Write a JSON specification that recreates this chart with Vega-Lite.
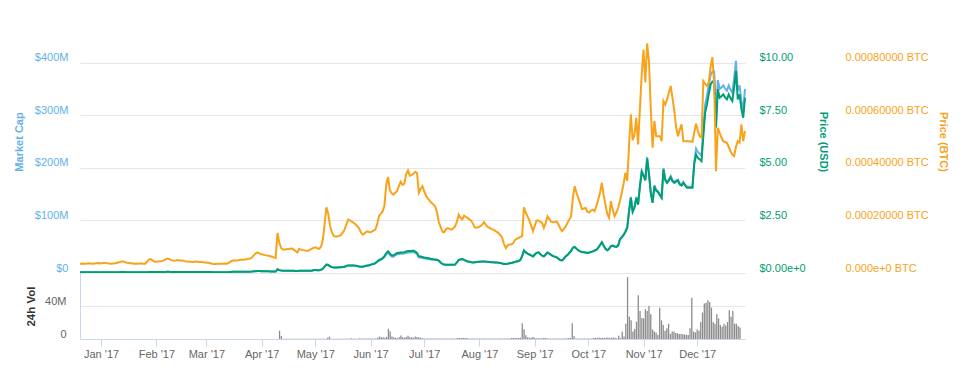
{
"$schema": "https://vega.github.io/schema/vega-lite/v6.json",
"padding": {"left": 13, "top": 10, "right": 5, "bottom": 5},
"config": {"view": {"stroke": null}, "font": "Liberation Sans"},
"data": {"values": [
{"date":"2016-12-23","mcap":1.35,"usd":0.034,"btc":0.0000355,"vol":0},
{"date":"2016-12-24","mcap":1.35,"usd":0.034,"btc":0.0000355,"vol":0},
{"date":"2016-12-25","mcap":1.37,"usd":0.034,"btc":0.000036,"vol":0},
{"date":"2016-12-26","mcap":1.33,"usd":0.033,"btc":0.000035,"vol":0},
{"date":"2016-12-27","mcap":1.37,"usd":0.034,"btc":0.000036,"vol":0},
{"date":"2016-12-28","mcap":1.41,"usd":0.035,"btc":0.000037,"vol":0},
{"date":"2016-12-29","mcap":1.37,"usd":0.034,"btc":0.000036,"vol":0},
{"date":"2016-12-30","mcap":1.33,"usd":0.033,"btc":0.000035,"vol":0},
{"date":"2016-12-31","mcap":1.37,"usd":0.034,"btc":0.000036,"vol":0},
{"date":"2017-01-01","mcap":1.41,"usd":0.035,"btc":0.000037,"vol":0},
{"date":"2017-01-02","mcap":1.44,"usd":0.036,"btc":0.000038,"vol":0},
{"date":"2017-01-03","mcap":1.37,"usd":0.034,"btc":0.000036,"vol":0},
{"date":"2017-01-04","mcap":1.41,"usd":0.035,"btc":0.000037,"vol":0},
{"date":"2017-01-05","mcap":1.44,"usd":0.036,"btc":0.000038,"vol":0},
{"date":"2017-01-06","mcap":1.44,"usd":0.036,"btc":0.000038,"vol":0},
{"date":"2017-01-07","mcap":1.41,"usd":0.035,"btc":0.000037,"vol":0},
{"date":"2017-01-08","mcap":1.37,"usd":0.034,"btc":0.000036,"vol":0},
{"date":"2017-01-09","mcap":1.33,"usd":0.033,"btc":0.000035,"vol":0},
{"date":"2017-01-10","mcap":1.37,"usd":0.034,"btc":0.000036,"vol":0},
{"date":"2017-01-11","mcap":1.37,"usd":0.034,"btc":0.000036,"vol":0},
{"date":"2017-01-12","mcap":1.44,"usd":0.036,"btc":0.000038,"vol":0},
{"date":"2017-01-13","mcap":1.52,"usd":0.038,"btc":0.00004,"vol":0},
{"date":"2017-01-14","mcap":1.6,"usd":0.04,"btc":0.000042,"vol":0},
{"date":"2017-01-15","mcap":1.67,"usd":0.042,"btc":0.000044,"vol":0},
{"date":"2017-01-16","mcap":1.67,"usd":0.042,"btc":0.000044,"vol":0},
{"date":"2017-01-17","mcap":1.56,"usd":0.039,"btc":0.000041,"vol":0},
{"date":"2017-01-18","mcap":1.48,"usd":0.037,"btc":0.000039,"vol":0},
{"date":"2017-01-19","mcap":1.44,"usd":0.036,"btc":0.000038,"vol":0},
{"date":"2017-01-20","mcap":1.41,"usd":0.035,"btc":0.000037,"vol":0},
{"date":"2017-01-21","mcap":1.37,"usd":0.034,"btc":0.000036,"vol":0},
{"date":"2017-01-22","mcap":1.33,"usd":0.033,"btc":0.000035,"vol":0},
{"date":"2017-01-23","mcap":1.37,"usd":0.034,"btc":0.000036,"vol":0},
{"date":"2017-01-24","mcap":1.33,"usd":0.033,"btc":0.000035,"vol":0},
{"date":"2017-01-25","mcap":1.37,"usd":0.034,"btc":0.000036,"vol":0},
{"date":"2017-01-26","mcap":1.37,"usd":0.034,"btc":0.000036,"vol":0},
{"date":"2017-01-27","mcap":1.33,"usd":0.033,"btc":0.000035,"vol":0},
{"date":"2017-01-28","mcap":1.35,"usd":0.034,"btc":0.0000355,"vol":0},
{"date":"2017-01-29","mcap":1.63,"usd":0.041,"btc":0.000043,"vol":0},
{"date":"2017-01-30","mcap":1.94,"usd":0.048,"btc":0.000051,"vol":0},
{"date":"2017-01-31","mcap":2.01,"usd":0.05,"btc":0.000053,"vol":0},
{"date":"2017-02-01","mcap":1.92,"usd":0.048,"btc":0.000048,"vol":0},
{"date":"2017-02-02","mcap":1.76,"usd":0.044,"btc":0.000044,"vol":0},
{"date":"2017-02-03","mcap":1.72,"usd":0.043,"btc":0.000043,"vol":0},
{"date":"2017-02-04","mcap":1.76,"usd":0.044,"btc":0.000044,"vol":0},
{"date":"2017-02-05","mcap":1.8,"usd":0.045,"btc":0.000045,"vol":0},
{"date":"2017-02-06","mcap":1.8,"usd":0.045,"btc":0.000045,"vol":0},
{"date":"2017-02-07","mcap":1.88,"usd":0.047,"btc":0.000047,"vol":0},
{"date":"2017-02-08","mcap":2.04,"usd":0.051,"btc":0.000051,"vol":0},
{"date":"2017-02-09","mcap":2.16,"usd":0.054,"btc":0.000054,"vol":0},
{"date":"2017-02-10","mcap":2.16,"usd":0.054,"btc":0.000054,"vol":0},
{"date":"2017-02-11","mcap":2.0,"usd":0.05,"btc":0.00005,"vol":0},
{"date":"2017-02-12","mcap":1.92,"usd":0.048,"btc":0.000048,"vol":0},
{"date":"2017-02-13","mcap":1.88,"usd":0.047,"btc":0.000047,"vol":0},
{"date":"2017-02-14","mcap":1.92,"usd":0.048,"btc":0.000048,"vol":0},
{"date":"2017-02-15","mcap":1.96,"usd":0.049,"btc":0.000049,"vol":0},
{"date":"2017-02-16","mcap":1.92,"usd":0.048,"btc":0.000048,"vol":0},
{"date":"2017-02-17","mcap":1.92,"usd":0.048,"btc":0.000048,"vol":0},
{"date":"2017-02-18","mcap":1.88,"usd":0.047,"btc":0.000047,"vol":0},
{"date":"2017-02-19","mcap":1.8,"usd":0.045,"btc":0.000045,"vol":0},
{"date":"2017-02-20","mcap":1.76,"usd":0.044,"btc":0.000044,"vol":0},
{"date":"2017-02-21","mcap":1.72,"usd":0.043,"btc":0.000043,"vol":0},
{"date":"2017-02-22","mcap":1.72,"usd":0.043,"btc":0.000043,"vol":0},
{"date":"2017-02-23","mcap":1.68,"usd":0.042,"btc":0.000042,"vol":0},
{"date":"2017-02-24","mcap":1.72,"usd":0.043,"btc":0.000043,"vol":0},
{"date":"2017-02-25","mcap":1.76,"usd":0.044,"btc":0.000044,"vol":0},
{"date":"2017-02-26","mcap":1.72,"usd":0.043,"btc":0.000043,"vol":0},
{"date":"2017-02-27","mcap":1.68,"usd":0.042,"btc":0.000042,"vol":0},
{"date":"2017-02-28","mcap":1.68,"usd":0.042,"btc":0.000042,"vol":0},
{"date":"2017-03-01","mcap":1.89,"usd":0.047,"btc":0.000041,"vol":0},
{"date":"2017-03-02","mcap":1.84,"usd":0.046,"btc":0.00004,"vol":0},
{"date":"2017-03-03","mcap":1.79,"usd":0.045,"btc":0.000039,"vol":0},
{"date":"2017-03-04","mcap":1.79,"usd":0.045,"btc":0.000039,"vol":0},
{"date":"2017-03-05","mcap":1.7,"usd":0.043,"btc":0.000037,"vol":0},
{"date":"2017-03-06","mcap":1.61,"usd":0.04,"btc":0.000035,"vol":0},
{"date":"2017-03-07","mcap":1.59,"usd":0.04,"btc":0.0000345,"vol":0},
{"date":"2017-03-08","mcap":1.58,"usd":0.039,"btc":0.0000343,"vol":0},
{"date":"2017-03-09","mcap":1.61,"usd":0.04,"btc":0.000035,"vol":0},
{"date":"2017-03-10","mcap":1.63,"usd":0.041,"btc":0.0000355,"vol":0},
{"date":"2017-03-11","mcap":1.61,"usd":0.04,"btc":0.000035,"vol":0},
{"date":"2017-03-12","mcap":1.63,"usd":0.041,"btc":0.0000355,"vol":0},
{"date":"2017-03-13","mcap":1.66,"usd":0.041,"btc":0.000036,"vol":0},
{"date":"2017-03-14","mcap":1.63,"usd":0.041,"btc":0.0000355,"vol":0},
{"date":"2017-03-15","mcap":1.75,"usd":0.044,"btc":0.000038,"vol":0},
{"date":"2017-03-16","mcap":1.98,"usd":0.049,"btc":0.000043,"vol":0},
{"date":"2017-03-17","mcap":2.16,"usd":0.054,"btc":0.000047,"vol":0},
{"date":"2017-03-18","mcap":2.21,"usd":0.055,"btc":0.000048,"vol":0},
{"date":"2017-03-19","mcap":2.16,"usd":0.054,"btc":0.000047,"vol":0},
{"date":"2017-03-20","mcap":2.21,"usd":0.055,"btc":0.000048,"vol":0},
{"date":"2017-03-21","mcap":2.25,"usd":0.056,"btc":0.000049,"vol":0},
{"date":"2017-03-22","mcap":2.3,"usd":0.058,"btc":0.00005,"vol":0},
{"date":"2017-03-23","mcap":2.3,"usd":0.058,"btc":0.00005,"vol":0},
{"date":"2017-03-24","mcap":2.35,"usd":0.059,"btc":0.000051,"vol":0},
{"date":"2017-03-25","mcap":2.39,"usd":0.06,"btc":0.000052,"vol":0},
{"date":"2017-03-26","mcap":2.48,"usd":0.062,"btc":0.000054,"vol":0},
{"date":"2017-03-27","mcap":2.53,"usd":0.063,"btc":0.000055,"vol":0},
{"date":"2017-03-28","mcap":2.76,"usd":0.069,"btc":0.00006,"vol":0},
{"date":"2017-03-29","mcap":3.13,"usd":0.078,"btc":0.000068,"vol":0},
{"date":"2017-03-30","mcap":3.45,"usd":0.086,"btc":0.000075,"vol":0},
{"date":"2017-03-31","mcap":3.61,"usd":0.09,"btc":0.0000785,"vol":0},
{"date":"2017-04-01","mcap":3.6,"usd":0.09,"btc":0.000075,"vol":0},
{"date":"2017-04-02","mcap":3.41,"usd":0.085,"btc":0.000071,"vol":0},
{"date":"2017-04-03","mcap":3.36,"usd":0.084,"btc":0.00007,"vol":0},
{"date":"2017-04-04","mcap":3.26,"usd":0.082,"btc":0.000068,"vol":0},
{"date":"2017-04-05","mcap":3.22,"usd":0.08,"btc":0.000067,"vol":0},
{"date":"2017-04-06","mcap":3.17,"usd":0.079,"btc":0.000066,"vol":0},
{"date":"2017-04-07","mcap":3.07,"usd":0.077,"btc":0.000064,"vol":0},
{"date":"2017-04-08","mcap":2.98,"usd":0.074,"btc":0.000062,"vol":0},
{"date":"2017-04-09","mcap":2.83,"usd":0.071,"btc":0.000059,"vol":0},
{"date":"2017-04-10","mcap":2.78,"usd":0.07,"btc":0.000058,"vol":0},
{"date":"2017-04-11","mcap":7.3,"usd":0.182,"btc":0.000152,"vol":10},
{"date":"2017-04-12","mcap":5.52,"usd":0.138,"btc":0.000115,"vol":3.5},
{"date":"2017-04-13","mcap":4.56,"usd":0.114,"btc":0.000095,"vol":0.3},
{"date":"2017-04-14","mcap":4.27,"usd":0.107,"btc":0.000089,"vol":0.3},
{"date":"2017-04-15","mcap":4.27,"usd":0.107,"btc":0.000089,"vol":0.3},
{"date":"2017-04-16","mcap":4.32,"usd":0.108,"btc":0.00009,"vol":0.3},
{"date":"2017-04-17","mcap":4.37,"usd":0.109,"btc":0.000091,"vol":0.3},
{"date":"2017-04-18","mcap":4.42,"usd":0.11,"btc":0.000092,"vol":0.3},
{"date":"2017-04-19","mcap":4.46,"usd":0.112,"btc":0.000093,"vol":0.3},
{"date":"2017-04-20","mcap":4.27,"usd":0.107,"btc":0.000089,"vol":0.3},
{"date":"2017-04-21","mcap":3.98,"usd":0.1,"btc":0.000083,"vol":0.3},
{"date":"2017-04-22","mcap":3.74,"usd":0.094,"btc":0.000078,"vol":0.3},
{"date":"2017-04-23","mcap":4.42,"usd":0.11,"btc":0.000092,"vol":0.3},
{"date":"2017-04-24","mcap":4.27,"usd":0.107,"btc":0.000089,"vol":0.3},
{"date":"2017-04-25","mcap":4.18,"usd":0.104,"btc":0.000087,"vol":0.3},
{"date":"2017-04-26","mcap":4.13,"usd":0.103,"btc":0.000086,"vol":0.3},
{"date":"2017-04-27","mcap":4.08,"usd":0.102,"btc":0.000085,"vol":0.3},
{"date":"2017-04-28","mcap":4.08,"usd":0.102,"btc":0.000085,"vol":0.3},
{"date":"2017-04-29","mcap":4.27,"usd":0.107,"btc":0.000089,"vol":0.3},
{"date":"2017-04-30","mcap":4.46,"usd":0.112,"btc":0.000093,"vol":0.3},
{"date":"2017-05-01","mcap":5.57,"usd":0.139,"btc":0.000096,"vol":0.3},
{"date":"2017-05-02","mcap":5.66,"usd":0.142,"btc":0.0000976,"vol":0.3},
{"date":"2017-05-03","mcap":5.45,"usd":0.136,"btc":0.000094,"vol":0.3},
{"date":"2017-05-04","mcap":5.34,"usd":0.133,"btc":0.000092,"vol":0.3},
{"date":"2017-05-05","mcap":6.0,"usd":0.15,"btc":0.0001,"vol":0.3},
{"date":"2017-05-06","mcap":8.0,"usd":0.2,"btc":0.000125,"vol":0.3},
{"date":"2017-05-07","mcap":12.0,"usd":0.3,"btc":0.000185,"vol":0.3},
{"date":"2017-05-08","mcap":16.0,"usd":0.4,"btc":0.00025,"vol":1.6},
{"date":"2017-05-09","mcap":15.2,"usd":0.38,"btc":0.000225,"vol":2.8},
{"date":"2017-05-10","mcap":12.8,"usd":0.32,"btc":0.00018,"vol":0.4},
{"date":"2017-05-11","mcap":11.2,"usd":0.28,"btc":0.000155,"vol":0.4},
{"date":"2017-05-12","mcap":10.4,"usd":0.26,"btc":0.000141,"vol":0.4},
{"date":"2017-05-13","mcap":10.4,"usd":0.26,"btc":0.000139,"vol":0.4},
{"date":"2017-05-14","mcap":10.4,"usd":0.26,"btc":0.000139,"vol":0.4},
{"date":"2017-05-15","mcap":10.8,"usd":0.27,"btc":0.000141,"vol":0.4},
{"date":"2017-05-16","mcap":10.8,"usd":0.27,"btc":0.000145,"vol":0.4},
{"date":"2017-05-17","mcap":11.2,"usd":0.28,"btc":0.000153,"vol":0.4},
{"date":"2017-05-18","mcap":12.0,"usd":0.3,"btc":0.000165,"vol":0.4},
{"date":"2017-05-19","mcap":13.2,"usd":0.33,"btc":0.000185,"vol":0.4},
{"date":"2017-05-20","mcap":14.4,"usd":0.36,"btc":0.000203,"vol":0.4},
{"date":"2017-05-21","mcap":14.4,"usd":0.36,"btc":0.0002,"vol":1},
{"date":"2017-05-22","mcap":14.4,"usd":0.36,"btc":0.000195,"vol":0.4},
{"date":"2017-05-23","mcap":14.4,"usd":0.36,"btc":0.000191,"vol":0.4},
{"date":"2017-05-24","mcap":14.0,"usd":0.35,"btc":0.000185,"vol":0.4},
{"date":"2017-05-25","mcap":13.2,"usd":0.33,"btc":0.000178,"vol":0.4},
{"date":"2017-05-26","mcap":12.4,"usd":0.31,"btc":0.00017,"vol":1},
{"date":"2017-05-27","mcap":12.0,"usd":0.3,"btc":0.000155,"vol":0.5},
{"date":"2017-05-28","mcap":12.0,"usd":0.3,"btc":0.000146,"vol":0.5},
{"date":"2017-05-29","mcap":12.8,"usd":0.32,"btc":0.00015,"vol":0.5},
{"date":"2017-05-30","mcap":13.6,"usd":0.34,"btc":0.000157,"vol":0.5},
{"date":"2017-05-31","mcap":14.4,"usd":0.36,"btc":0.000158,"vol":0.5},
{"date":"2017-06-01","mcap":15.2,"usd":0.38,"btc":0.000154,"vol":0.5},
{"date":"2017-06-02","mcap":16.4,"usd":0.41,"btc":0.000157,"vol":0.5},
{"date":"2017-06-03","mcap":17.2,"usd":0.43,"btc":0.000161,"vol":0.5},
{"date":"2017-06-04","mcap":18.8,"usd":0.47,"btc":0.000165,"vol":0.5},
{"date":"2017-06-05","mcap":21.2,"usd":0.55,"btc":0.000185,"vol":1.5},
{"date":"2017-06-06","mcap":23.3,"usd":0.62,"btc":0.000217,"vol":3},
{"date":"2017-06-07","mcap":24.8,"usd":0.66,"btc":0.000225,"vol":2},
{"date":"2017-06-08","mcap":26.6,"usd":0.71,"btc":0.000234,"vol":2},
{"date":"2017-06-09","mcap":30.0,"usd":0.8,"btc":0.000255,"vol":1.5},
{"date":"2017-06-10","mcap":35.6,"usd":0.95,"btc":0.000335,"vol":2.5},
{"date":"2017-06-11","mcap":38.6,"usd":1.03,"btc":0.000365,"vol":12.5},
{"date":"2017-06-12","mcap":34.5,"usd":0.92,"btc":0.000315,"vol":9},
{"date":"2017-06-13","mcap":31.5,"usd":0.84,"btc":0.000303,"vol":3},
{"date":"2017-06-14","mcap":31.1,"usd":0.83,"btc":0.000298,"vol":2},
{"date":"2017-06-15","mcap":33.8,"usd":0.9,"btc":0.000305,"vol":1.5},
{"date":"2017-06-16","mcap":35.6,"usd":0.95,"btc":0.000311,"vol":1},
{"date":"2017-06-17","mcap":36.0,"usd":0.96,"btc":0.00033,"vol":2},
{"date":"2017-06-18","mcap":36.4,"usd":0.97,"btc":0.000347,"vol":4.2},
{"date":"2017-06-19","mcap":36.8,"usd":0.98,"btc":0.000335,"vol":2},
{"date":"2017-06-20","mcap":37.1,"usd":0.99,"btc":0.00034,"vol":1.5},
{"date":"2017-06-21","mcap":38.3,"usd":1.02,"btc":0.000375,"vol":2.5},
{"date":"2017-06-22","mcap":39.0,"usd":1.04,"btc":0.00039,"vol":4},
{"date":"2017-06-23","mcap":39.0,"usd":1.04,"btc":0.00037,"vol":2},
{"date":"2017-06-24","mcap":39.4,"usd":1.05,"btc":0.000372,"vol":2},
{"date":"2017-06-25","mcap":40.1,"usd":1.07,"btc":0.000378,"vol":1.5},
{"date":"2017-06-26","mcap":38.3,"usd":1.02,"btc":0.000385,"vol":3},
{"date":"2017-06-27","mcap":35.6,"usd":0.95,"btc":0.00038,"vol":2.5},
{"date":"2017-06-28","mcap":29.6,"usd":0.79,"btc":0.000305,"vol":2},
{"date":"2017-06-29","mcap":29.3,"usd":0.78,"btc":0.00032,"vol":1.5},
{"date":"2017-06-30","mcap":28.5,"usd":0.76,"btc":0.00033,"vol":1},
{"date":"2017-07-01","mcap":27.8,"usd":0.74,"btc":0.00031,"vol":0.5},
{"date":"2017-07-02","mcap":27.0,"usd":0.72,"btc":0.000293,"vol":0.5},
{"date":"2017-07-03","mcap":26.6,"usd":0.71,"btc":0.000283,"vol":0.5},
{"date":"2017-07-04","mcap":25.9,"usd":0.69,"btc":0.000275,"vol":0.5},
{"date":"2017-07-05","mcap":25.1,"usd":0.67,"btc":0.000267,"vol":0.5},
{"date":"2017-07-06","mcap":25.4,"usd":0.65,"btc":0.00026,"vol":0.5},
{"date":"2017-07-07","mcap":25.0,"usd":0.64,"btc":0.000254,"vol":0.5},
{"date":"2017-07-08","mcap":24.6,"usd":0.63,"btc":0.00023,"vol":0.5},
{"date":"2017-07-09","mcap":23.6,"usd":0.59,"btc":0.000195,"vol":0.5},
{"date":"2017-07-10","mcap":20.0,"usd":0.5,"btc":0.000175,"vol":0.5},
{"date":"2017-07-11","mcap":17.2,"usd":0.43,"btc":0.000157,"vol":0.5},
{"date":"2017-07-12","mcap":16.0,"usd":0.4,"btc":0.000155,"vol":0.5},
{"date":"2017-07-13","mcap":15.6,"usd":0.39,"btc":0.000167,"vol":0.5},
{"date":"2017-07-14","mcap":15.6,"usd":0.39,"btc":0.000171,"vol":0.5},
{"date":"2017-07-15","mcap":15.6,"usd":0.39,"btc":0.000168,"vol":0.5},
{"date":"2017-07-16","mcap":15.6,"usd":0.39,"btc":0.000165,"vol":0.5},
{"date":"2017-07-17","mcap":15.6,"usd":0.39,"btc":0.00017,"vol":0.5},
{"date":"2017-07-18","mcap":16.0,"usd":0.4,"btc":0.000177,"vol":0.5},
{"date":"2017-07-19","mcap":20.0,"usd":0.5,"btc":0.000195,"vol":0.5},
{"date":"2017-07-20","mcap":24.8,"usd":0.62,"btc":0.000222,"vol":1.2},
{"date":"2017-07-21","mcap":25.6,"usd":0.64,"btc":0.00021,"vol":1.2},
{"date":"2017-07-22","mcap":26.4,"usd":0.66,"btc":0.000204,"vol":1.2},
{"date":"2017-07-23","mcap":24.8,"usd":0.62,"btc":0.000218,"vol":1.2},
{"date":"2017-07-24","mcap":23.2,"usd":0.58,"btc":0.000213,"vol":1.2},
{"date":"2017-07-25","mcap":22.0,"usd":0.55,"btc":0.000209,"vol":1.2},
{"date":"2017-07-26","mcap":21.2,"usd":0.53,"btc":0.000203,"vol":0.5},
{"date":"2017-07-27","mcap":20.4,"usd":0.51,"btc":0.000198,"vol":0.5},
{"date":"2017-07-28","mcap":20.0,"usd":0.5,"btc":0.000185,"vol":0.5},
{"date":"2017-07-29","mcap":20.4,"usd":0.51,"btc":0.000172,"vol":0.5},
{"date":"2017-07-30","mcap":20.8,"usd":0.52,"btc":0.000173,"vol":0.5},
{"date":"2017-07-31","mcap":21.2,"usd":0.53,"btc":0.000175,"vol":0.5},
{"date":"2017-08-01","mcap":21.6,"usd":0.54,"btc":0.000178,"vol":0.5},
{"date":"2017-08-02","mcap":22.0,"usd":0.55,"btc":0.000185,"vol":0.5},
{"date":"2017-08-03","mcap":22.0,"usd":0.55,"btc":0.000193,"vol":0.5},
{"date":"2017-08-04","mcap":21.6,"usd":0.54,"btc":0.000183,"vol":0.5},
{"date":"2017-08-05","mcap":21.2,"usd":0.53,"btc":0.000175,"vol":0.5},
{"date":"2017-08-06","mcap":20.8,"usd":0.52,"btc":0.000172,"vol":0.5},
{"date":"2017-08-07","mcap":20.4,"usd":0.51,"btc":0.000168,"vol":0.5},
{"date":"2017-08-08","mcap":20.4,"usd":0.51,"btc":0.000165,"vol":0.5},
{"date":"2017-08-09","mcap":20.0,"usd":0.5,"btc":0.000161,"vol":0.5},
{"date":"2017-08-10","mcap":20.0,"usd":0.5,"btc":0.000156,"vol":0.5},
{"date":"2017-08-11","mcap":19.6,"usd":0.49,"btc":0.000152,"vol":0.5},
{"date":"2017-08-12","mcap":19.2,"usd":0.48,"btc":0.000143,"vol":0.5},
{"date":"2017-08-13","mcap":18.0,"usd":0.45,"btc":0.000134,"vol":0.5},
{"date":"2017-08-14","mcap":17.2,"usd":0.43,"btc":0.00011,"vol":0.5},
{"date":"2017-08-15","mcap":17.2,"usd":0.43,"btc":0.000095,"vol":0.5},
{"date":"2017-08-16","mcap":17.6,"usd":0.44,"btc":0.000105,"vol":0.5},
{"date":"2017-08-17","mcap":18.4,"usd":0.46,"btc":0.000108,"vol":0.5},
{"date":"2017-08-18","mcap":19.2,"usd":0.48,"btc":0.000108,"vol":0.5},
{"date":"2017-08-19","mcap":20.0,"usd":0.5,"btc":0.000113,"vol":1.2},
{"date":"2017-08-20","mcap":20.8,"usd":0.52,"btc":0.000125,"vol":1.2},
{"date":"2017-08-21","mcap":22.0,"usd":0.55,"btc":0.00013,"vol":1.2},
{"date":"2017-08-22","mcap":22.8,"usd":0.57,"btc":0.000133,"vol":1.2},
{"date":"2017-08-23","mcap":24.8,"usd":0.62,"btc":0.000137,"vol":1.2},
{"date":"2017-08-24","mcap":32.0,"usd":0.8,"btc":0.00014,"vol":1.5},
{"date":"2017-08-25","mcap":42.8,"usd":1.07,"btc":0.00025,"vol":19},
{"date":"2017-08-26","mcap":39.2,"usd":0.98,"btc":0.00023,"vol":11.8},
{"date":"2017-08-27","mcap":36.8,"usd":0.92,"btc":0.000215,"vol":4.5},
{"date":"2017-08-28","mcap":35.2,"usd":0.88,"btc":0.0002,"vol":2},
{"date":"2017-08-29","mcap":33.6,"usd":0.84,"btc":0.00018,"vol":1.5},
{"date":"2017-08-30","mcap":31.6,"usd":0.79,"btc":0.000159,"vol":1.5},
{"date":"2017-08-31","mcap":35.2,"usd":0.88,"btc":0.00018,"vol":2.5},
{"date":"2017-09-01","mcap":38.4,"usd":0.96,"btc":0.0002,"vol":1.2},
{"date":"2017-09-02","mcap":39.2,"usd":0.98,"btc":0.0002,"vol":0.8},
{"date":"2017-09-03","mcap":36.0,"usd":0.9,"btc":0.000195,"vol":0.8},
{"date":"2017-09-04","mcap":32.8,"usd":0.82,"btc":0.000191,"vol":0.8},
{"date":"2017-09-05","mcap":31.6,"usd":0.79,"btc":0.000172,"vol":0.8},
{"date":"2017-09-06","mcap":35.2,"usd":0.88,"btc":0.00019,"vol":1.2},
{"date":"2017-09-07","mcap":38.8,"usd":0.97,"btc":0.000215,"vol":1.2},
{"date":"2017-09-08","mcap":36.8,"usd":0.92,"btc":0.000205,"vol":0.5},
{"date":"2017-09-09","mcap":34.4,"usd":0.86,"btc":0.000195,"vol":0.5},
{"date":"2017-09-10","mcap":32.0,"usd":0.8,"btc":0.000193,"vol":0.5},
{"date":"2017-09-11","mcap":31.2,"usd":0.78,"btc":0.000194,"vol":0.5},
{"date":"2017-09-12","mcap":30.0,"usd":0.75,"btc":0.000196,"vol":0.5},
{"date":"2017-09-13","mcap":27.2,"usd":0.68,"btc":0.000185,"vol":0.5},
{"date":"2017-09-14","mcap":24.8,"usd":0.62,"btc":0.00017,"vol":0.5},
{"date":"2017-09-15","mcap":24.0,"usd":0.6,"btc":0.000159,"vol":0.5},
{"date":"2017-09-16","mcap":27.2,"usd":0.68,"btc":0.000167,"vol":0.5},
{"date":"2017-09-17","mcap":31.2,"usd":0.78,"btc":0.000177,"vol":0.5},
{"date":"2017-09-18","mcap":34.0,"usd":0.85,"btc":0.00019,"vol":0.5},
{"date":"2017-09-19","mcap":38.0,"usd":0.95,"btc":0.000203,"vol":1},
{"date":"2017-09-20","mcap":42.0,"usd":1.05,"btc":0.000215,"vol":1.2},
{"date":"2017-09-21","mcap":48.0,"usd":1.2,"btc":0.000285,"vol":1.2},
{"date":"2017-09-22","mcap":49.6,"usd":1.24,"btc":0.00033,"vol":19},
{"date":"2017-09-23","mcap":46.0,"usd":1.15,"btc":0.000305,"vol":3.4},
{"date":"2017-09-24","mcap":43.2,"usd":1.08,"btc":0.000285,"vol":0.5},
{"date":"2017-09-25","mcap":41.2,"usd":1.03,"btc":0.000265,"vol":0.5},
{"date":"2017-09-26","mcap":40.0,"usd":1.0,"btc":0.000243,"vol":0.5},
{"date":"2017-09-27","mcap":39.6,"usd":0.99,"btc":0.000245,"vol":0.5},
{"date":"2017-09-28","mcap":38.8,"usd":0.97,"btc":0.000248,"vol":0.5},
{"date":"2017-09-29","mcap":38.0,"usd":0.95,"btc":0.000233,"vol":0.5},
{"date":"2017-09-30","mcap":38.8,"usd":0.97,"btc":0.00023,"vol":0.5},
{"date":"2017-10-01","mcap":40.0,"usd":1.0,"btc":0.000237,"vol":0.5},
{"date":"2017-10-02","mcap":41.2,"usd":1.03,"btc":0.000241,"vol":0.5},
{"date":"2017-10-03","mcap":42.8,"usd":1.07,"btc":0.000235,"vol":0.5},
{"date":"2017-10-04","mcap":44.0,"usd":1.1,"btc":0.000255,"vol":1.2},
{"date":"2017-10-05","mcap":48.0,"usd":1.2,"btc":0.000279,"vol":1.5},
{"date":"2017-10-06","mcap":53.2,"usd":1.33,"btc":0.000305,"vol":1.2},
{"date":"2017-10-07","mcap":58.4,"usd":1.46,"btc":0.000343,"vol":1.7},
{"date":"2017-10-08","mcap":52.0,"usd":1.3,"btc":0.000295,"vol":1.2},
{"date":"2017-10-09","mcap":46.0,"usd":1.15,"btc":0.00026,"vol":1.5},
{"date":"2017-10-10","mcap":43.2,"usd":1.08,"btc":0.000225,"vol":1.2},
{"date":"2017-10-11","mcap":46.0,"usd":1.15,"btc":0.00021,"vol":1.5},
{"date":"2017-10-12","mcap":51.2,"usd":1.28,"btc":0.000273,"vol":1.7},
{"date":"2017-10-13","mcap":52.0,"usd":1.3,"btc":0.00024,"vol":1.2},
{"date":"2017-10-14","mcap":50.4,"usd":1.26,"btc":0.000216,"vol":1.5},
{"date":"2017-10-15","mcap":49.6,"usd":1.24,"btc":0.00023,"vol":1.7},
{"date":"2017-10-16","mcap":52.0,"usd":1.3,"btc":0.000248,"vol":1.5},
{"date":"2017-10-17","mcap":64.0,"usd":1.6,"btc":0.000275,"vol":1},
{"date":"2017-10-18","mcap":68.9,"usd":1.7,"btc":0.000305,"vol":4},
{"date":"2017-10-19","mcap":72.9,"usd":1.8,"btc":0.00034,"vol":1},
{"date":"2017-10-20","mcap":79.0,"usd":1.95,"btc":0.000381,"vol":9},
{"date":"2017-10-21","mcap":87.1,"usd":2.15,"btc":0.00035,"vol":3},
{"date":"2017-10-22","mcap":117.5,"usd":2.9,"btc":0.000485,"vol":18.5},
{"date":"2017-10-23","mcap":144.6,"usd":3.57,"btc":0.000603,"vol":75},
{"date":"2017-10-24","mcap":117.5,"usd":2.9,"btc":0.000505,"vol":27},
{"date":"2017-10-25","mcap":125.6,"usd":3.1,"btc":0.000525,"vol":22.6},
{"date":"2017-10-26","mcap":144.6,"usd":3.57,"btc":0.00059,"vol":9},
{"date":"2017-10-27","mcap":131.6,"usd":3.25,"btc":0.000489,"vol":12},
{"date":"2017-10-28","mcap":166.1,"usd":4.1,"btc":0.000625,"vol":21},
{"date":"2017-10-29","mcap":194.4,"usd":4.8,"btc":0.000755,"vol":53},
{"date":"2017-10-30","mcap":186.3,"usd":4.6,"btc":0.00085,"vol":34},
{"date":"2017-10-31","mcap":178.2,"usd":4.4,"btc":0.000725,"vol":25.5},
{"date":"2017-11-01","mcap":220.3,"usd":5.44,"btc":0.000873,"vol":25},
{"date":"2017-11-02","mcap":190.4,"usd":4.7,"btc":0.000805,"vol":36},
{"date":"2017-11-03","mcap":153.9,"usd":3.8,"btc":0.000625,"vol":34},
{"date":"2017-11-04","mcap":134.9,"usd":3.33,"btc":0.000476,"vol":40},
{"date":"2017-11-05","mcap":166.9,"usd":4.12,"btc":0.000578,"vol":30},
{"date":"2017-11-06","mcap":158.0,"usd":3.9,"btc":0.00052,"vol":11.5},
{"date":"2017-11-07","mcap":155.5,"usd":3.84,"btc":0.00052,"vol":9},
{"date":"2017-11-08","mcap":149.9,"usd":3.7,"btc":0.00052,"vol":8},
{"date":"2017-11-09","mcap":144.6,"usd":3.57,"btc":0.000501,"vol":5},
{"date":"2017-11-10","mcap":199.3,"usd":4.92,"btc":0.000654,"vol":38},
{"date":"2017-11-11","mcap":178.2,"usd":4.4,"btc":0.000641,"vol":22.6},
{"date":"2017-11-12","mcap":173.3,"usd":4.28,"btc":0.00066,"vol":17},
{"date":"2017-11-13","mcap":178.2,"usd":4.4,"btc":0.000685,"vol":10},
{"date":"2017-11-14","mcap":184.3,"usd":4.55,"btc":0.000711,"vol":13},
{"date":"2017-11-15","mcap":176.2,"usd":4.35,"btc":0.000665,"vol":18.5},
{"date":"2017-11-16","mcap":173.3,"usd":4.28,"btc":0.000616,"vol":6},
{"date":"2017-11-17","mcap":176.2,"usd":4.35,"btc":0.000555,"vol":9},
{"date":"2017-11-18","mcap":177.8,"usd":4.39,"btc":0.00052,"vol":9},
{"date":"2017-11-19","mcap":170.1,"usd":4.2,"btc":0.000545,"vol":7.4},
{"date":"2017-11-20","mcap":168.1,"usd":4.15,"btc":0.000565,"vol":7},
{"date":"2017-11-21","mcap":173.3,"usd":4.28,"btc":0.000501,"vol":6},
{"date":"2017-11-22","mcap":168.1,"usd":4.15,"btc":0.000501,"vol":6},
{"date":"2017-11-23","mcap":164.0,"usd":4.05,"btc":0.000502,"vol":5.8},
{"date":"2017-11-24","mcap":164.0,"usd":4.05,"btc":0.000501,"vol":5.5},
{"date":"2017-11-25","mcap":164.0,"usd":4.05,"btc":0.0005,"vol":5},
{"date":"2017-11-26","mcap":164.0,"usd":4.05,"btc":0.000499,"vol":5},
{"date":"2017-11-27","mcap":210.6,"usd":5.2,"btc":0.000535,"vol":13},
{"date":"2017-11-28","mcap":236.5,"usd":5.63,"btc":0.000568,"vol":50},
{"date":"2017-11-29","mcap":229.7,"usd":5.47,"btc":0.00054,"vol":9},
{"date":"2017-11-30","mcap":226.8,"usd":5.4,"btc":0.00052,"vol":8},
{"date":"2017-12-01","mcap":223.0,"usd":5.31,"btc":0.000515,"vol":11.5},
{"date":"2017-12-02","mcap":273.0,"usd":6.5,"btc":0.00073,"vol":10},
{"date":"2017-12-03","mcap":320.0,"usd":7.62,"btc":0.00072,"vol":20.6},
{"date":"2017-12-04","mcap":336.4,"usd":8.01,"btc":0.000711,"vol":32},
{"date":"2017-12-05","mcap":357.0,"usd":8.5,"btc":0.000724,"vol":43},
{"date":"2017-12-06","mcap":376.3,"usd":8.96,"btc":0.000785,"vol":44},
{"date":"2017-12-07","mcap":382.2,"usd":9.1,"btc":0.000821,"vol":47},
{"date":"2017-12-08","mcap":383.0,"usd":9.12,"btc":0.000717,"vol":45},
{"date":"2017-12-09","mcap":289.8,"usd":6.9,"btc":0.000387,"vol":38},
{"date":"2017-12-10","mcap":366.7,"usd":8.73,"btc":0.000552,"vol":20.6},
{"date":"2017-12-11","mcap":349.9,"usd":8.33,"btc":0.000533,"vol":18.5},
{"date":"2017-12-12","mcap":352.8,"usd":8.4,"btc":0.000515,"vol":30},
{"date":"2017-12-13","mcap":356.6,"usd":8.49,"btc":0.000501,"vol":25},
{"date":"2017-12-14","mcap":350.7,"usd":8.35,"btc":0.000498,"vol":17},
{"date":"2017-12-15","mcap":346.5,"usd":8.25,"btc":0.000495,"vol":15},
{"date":"2017-12-16","mcap":356.6,"usd":8.49,"btc":0.00048,"vol":18.5},
{"date":"2017-12-17","mcap":348.6,"usd":8.3,"btc":0.000463,"vol":16.5},
{"date":"2017-12-18","mcap":343.1,"usd":8.17,"btc":0.00045,"vol":20.6},
{"date":"2017-12-19","mcap":369.6,"usd":8.8,"btc":0.000444,"vol":35},
{"date":"2017-12-20","mcap":403.2,"usd":9.6,"btc":0.00048,"vol":27},
{"date":"2017-12-21","mcap":346.5,"usd":8.25,"btc":0.000501,"vol":34},
{"date":"2017-12-22","mcap":356.6,"usd":8.49,"btc":0.000495,"vol":18.5},
{"date":"2017-12-23","mcap":327.6,"usd":7.8,"btc":0.000565,"vol":18.5},
{"date":"2017-12-24","mcap":310.0,"usd":7.38,"btc":0.000501,"vol":15.6},
{"date":"2017-12-25","mcap":349.9,"usd":8.33,"btc":0.00054,"vol":14}
]},
"spacing": 0,
"bounds": "flush",
"resolve": {"scale": {"y": "independent"}},
"vconcat": [
{
"width": 665, "height": 263,
"layer": [
{"mark": {"type": "line", "color": "#64b0e8", "strokeWidth": 2},
 "encoding": {
  "x": {"field": "date", "type": "temporal", "axis": null,
        "scale": {"type": "utc", "domain": [{"year": 2016, "month": 12, "date": 23, "utc": true}, {"year": 2017, "month": 12, "date": 25, "utc": true}]}},
  "y": {"field": "mcap", "type": "quantitative", "scale": {"domain": [0, 500], "nice": false},
        "axis": {"orient": "left", "values": [0, 100, 200, 300, 400],
                 "labelExpr": "datum.value == 0 ? '$0' : '$' + datum.value + 'M'",
                 "title": "Market Cap", "titleColor": "#64b0e8", "titleFontSize": 11, "titleFontWeight": "bold",
                 "titlePadding": 0, "minExtent": 56, "maxExtent": 56,
                 "labelColor": "#64b0e8", "labelFontSize": 11, "labelPadding": 12, "labelOffset": -5,
                 "ticks": false, "tickSize": 0, "domain": false,
                 "grid": true, "gridColor": "#e6e6e6"}}
 }},
{"mark": {"type": "line", "color": "#009e73", "strokeWidth": 2},
 "encoding": {
  "x": {"field": "date", "type": "temporal"},
  "y": {"field": "usd", "type": "quantitative", "scale": {"domain": [0, 12.5], "nice": false},
        "axis": {"orient": "right", "values": [0, 2.5, 5, 7.5, 10],
                 "labelExpr": "datum.value == 0 ? '$0.00e+0' : format(datum.value, '$.2f')",
                 "title": "Price (USD)", "titleColor": "#009e73", "titleFontSize": 11, "titleFontWeight": "bold",
                 "titlePadding": 0, "minExtent": 72, "maxExtent": 72,
                 "labelColor": "#009e73", "labelFontSize": 11, "labelPadding": 14, "labelOffset": -5,
                 "ticks": false, "tickSize": 0, "domain": false, "grid": false}}
 }},
{"mark": {"type": "line", "color": "#f9a31a", "strokeWidth": 2},
 "encoding": {
  "x": {"field": "date", "type": "temporal"},
  "y": {"field": "btc", "type": "quantitative", "scale": {"domain": [0, 0.001], "nice": false},
        "axis": {"orient": "right", "offset": 86, "values": [0, 0.0002, 0.0004, 0.0006, 0.0008],
                 "labelExpr": "datum.value == 0 ? '0.000e+0 BTC' : format(datum.value, '.8f') + ' BTC'",
                 "title": "Price (BTC)", "titleColor": "#f9a31a", "titleFontSize": 11, "titleFontWeight": "bold",
                 "titlePadding": 0, "minExtent": 106, "maxExtent": 106,
                 "labelColor": "#f9a31a", "labelFontSize": 11, "labelPadding": 14, "labelOffset": -5,
                 "ticks": false, "tickSize": 0, "domain": false, "grid": false}}
 }}
],
"resolve": {"scale": {"y": "independent"}}
},
{
"width": 665, "height": 66,
"mark": {"type": "bar", "color": "#8c8c8c", "width": 1.3},
"encoding": {
  "x": {"field": "date", "type": "temporal",
        "scale": {"type": "utc", "domain": [{"year": 2016, "month": 12, "date": 23, "utc": true}, {"year": 2017, "month": 12, "date": 25, "utc": true}]},
        "axis": {"title": null, "format": "%b '%y", "tickCount": {"interval": "month", "step": 1},
                 "domainColor": "#ccd6eb", "tickColor": "#ccd6eb", "tickSize": 7,
                 "labelColor": "#666666", "labelFontSize": 11, "labelPadding": 2, "grid": false}},
  "y": {"field": "vol", "type": "quantitative", "scale": {"domain": [0, 80], "nice": false},
        "axis": {"orient": "left", "values": [0, 40, 80],
                 "labelExpr": "datum.value == 0 ? '0' : datum.value == 80 ? '' : datum.value + 'M'",
                 "title": "24h Vol", "titleColor": "#333333", "titleFontSize": 11.5, "titleFontWeight": "bold",
                 "titlePadding": 0, "minExtent": 44, "maxExtent": 44,
                 "labelColor": "#666666", "labelFontSize": 11, "labelPadding": 14, "labelOffset": -5,
                 "ticks": false, "tickSize": 0, "domain": true, "domainColor": "#ccd6eb",
                 "grid": true, "gridColor": "#e6e6e6"}}
}
}
]
}
